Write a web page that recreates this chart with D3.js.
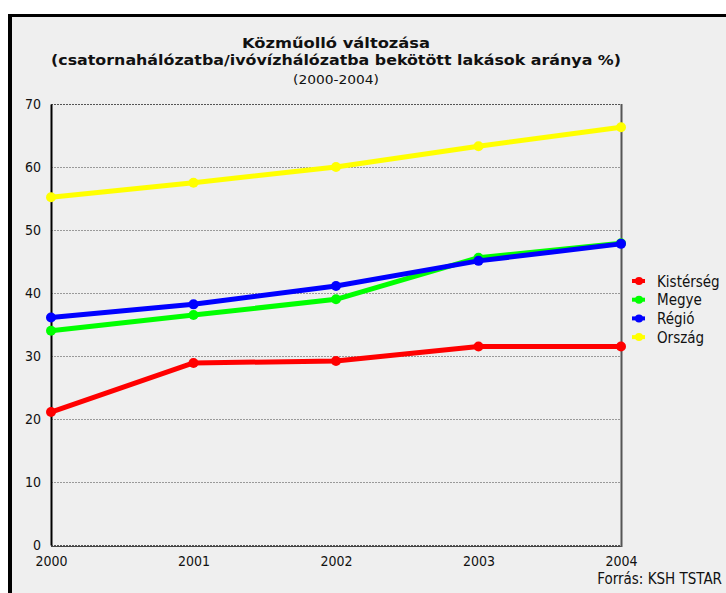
<!DOCTYPE html>
<html>
<head>
<meta charset="utf-8">
<script src="https://cdn.jsdelivr.net/npm/d3@7"></script>
<style>
  body { margin: 0; background: #fff; }
  svg { display: block; }
  svg text { font-family: "DejaVu Sans Condensed", "DejaVu Sans", sans-serif; font-stretch: condensed; }
</style>
</head>
<body>
<div class="graph"></div>
<script>
// chart data
var years = [2000, 2001, 2002, 2003, 2004];
var yearLabels = ["2000", "2001", "2002", "2003", "2004"];
var kisterseg = [21.1, 28.9, 29.2, 31.5, 31.5];
var megye = [34.0, 36.5, 39.0, 45.6, 47.9];
var regio = [36.1, 38.2, 41.1, 45.1, 47.8];
var orszag = [55.2, 57.5, 60.0, 63.3, 66.3];
var yTicks = [0, 10, 20, 30, 40, 50, 60, 70];
var seriesNames = ["Kistérség", "Megye", "Régió", "Ország"];

var series = [
  {name: seriesNames[0], values: kisterseg, color: "#ff0000"},
  {name: seriesNames[1], values: megye, color: "#00ff00"},
  {name: seriesNames[2], values: regio, color: "#0000ff"},
  {name: seriesNames[3], values: orszag, color: "#ffff00"}
];
// draw order: yellow, red, green, blue on top
var drawOrder = [3, 0, 1, 2];

var W = 726, H = 593;
var margin = {top: 104, right: 105, bottom: 48, left: 51},
    width = W - margin.left - margin.right,
    height = H - margin.top - margin.bottom;

var x = d3.scaleLinear().domain([2000, 2004]).range([0, width]);
var y = d3.scaleLinear().domain([0, 70]).range([height, 0]);

var svg = d3.select(".graph").append("svg")
    .attr("width", W)
    .attr("height", H);

// panel background and frame
svg.append("rect")
    .attr("x", 8).attr("y", 14)
    .attr("width", W - 8).attr("height", H - 14)
    .attr("fill", "#efefef");
svg.append("rect")
    .attr("x", 8).attr("y", 14)
    .attr("width", 4).attr("height", H - 14)
    .attr("fill", "#000");
svg.append("rect")
    .attr("x", 8).attr("y", 14)
    .attr("width", W - 8).attr("height", 3)
    .attr("fill", "#000");

// titles
var cx = margin.left + width / 2;
svg.append("text")
    .attr("x", cx).attr("y", 48)
    .attr("text-anchor", "middle")
    .attr("textLength", 188).attr("lengthAdjust", "spacingAndGlyphs")
    .style("font-size", "14px").style("font-weight", "bold")
    .style("fill", "#111")
    .text("Közműolló változása");
svg.append("text")
    .attr("x", cx).attr("y", 65)
    .attr("text-anchor", "middle")
    .attr("textLength", 570).attr("lengthAdjust", "spacingAndGlyphs")
    .style("font-size", "14px").style("font-weight", "bold")
    .style("fill", "#111")
    .text("(csatornahálózatba/ivóvízhálózatba bekötött lakások aránya %)");
svg.append("text")
    .attr("x", cx).attr("y", 84)
    .attr("text-anchor", "middle")
    .attr("textLength", 86).attr("lengthAdjust", "spacingAndGlyphs")
    .style("font-size", "13px")
    .style("fill", "#111")
    .text("(2000-2004)");

var g = svg.append("g")
    .attr("transform", "translate(" + margin.left + "," + margin.top + ")");

// grid lines
g.selectAll("line.grid")
    .data(yTicks)
    .enter().append("line")
    .attr("class", "grid")
    .attr("x1", 0).attr("x2", width)
    .attr("y1", function(d) { return y(d) + 0.5; })
    .attr("y2", function(d) { return y(d) + 0.5; })
    .attr("stroke", function(d) { return d === 70 || d === 0 ? "#555" : "#999"; })
    .attr("stroke-dasharray", "2,1");

// bottom solid line
g.append("line")
    .attr("x1", 0).attr("x2", width)
    .attr("y1", height + 1.5).attr("y2", height + 1.5)
    .attr("stroke", "#444");

// y axis
var yAxis = g.append("g")
    .call(d3.axisLeft(y).tickValues(yTicks).tickSize(0).tickPadding(10));
yAxis.attr("font-family", null).attr("font-size", null);
yAxis.select(".domain").attr("stroke", "#000").attr("stroke-width", 2);
yAxis.selectAll("text").style("font-size", "14px").style("fill", "#111");

// right border
g.append("line")
    .attr("x1", width + 0.5).attr("x2", width + 0.5)
    .attr("y1", 0).attr("y2", height + 2)
    .attr("stroke", "#555").attr("stroke-width", 2);

// x axis
var xAxis = g.append("g")
    .attr("transform", "translate(0," + height + ")")
    .call(d3.axisBottom(x).tickValues(years)
      .tickFormat(function(d, i) { return yearLabels[i]; })
      .tickSize(0).tickPadding(11));
xAxis.attr("font-family", null).attr("font-size", null);
xAxis.select(".domain").remove();
xAxis.selectAll("text").style("font-size", "14px").style("fill", "#111");

// lines
var valueline = d3.line()
    .x(function(d, i) { return x(years[i]); })
    .y(function(d) { return y(d); });

drawOrder.forEach(function(k) {
  var s = series[k];
  g.append("path")
      .datum(s.values)
      .attr("fill", "none")
      .attr("stroke", s.color)
      .attr("stroke-width", 5)
      .attr("stroke-linejoin", "round")
      .attr("d", valueline);
  g.selectAll("circle.s" + k)
      .data(s.values)
      .enter().append("circle")
      .attr("class", "s" + k)
      .attr("r", 5)
      .attr("fill", s.color)
      .attr("cx", function(d, i) { return x(years[i]); })
      .attr("cy", function(d) { return y(d); });
});

// legend
var legend = svg.append("g")
    .attr("transform", "translate(632,281)");
var item = legend.selectAll("g")
    .data(series)
    .enter().append("g")
    .attr("transform", function(d, i) { return "translate(0," + (i * 18.7) + ")"; });
item.append("line")
    .attr("x1", 0).attr("x2", 13)
    .attr("y1", 0).attr("y2", 0)
    .attr("stroke", function(d) { return d.color; })
    .attr("stroke-width", 4);
item.append("circle")
    .attr("cx", 7).attr("cy", 0).attr("r", 4)
    .attr("fill", function(d) { return d.color; });
item.append("text")
    .attr("x", 25).attr("y", 5.5)
    .style("font-size", "15px").style("fill", "#111")
    .text(function(d) { return d.name; });

// source note
svg.append("text")
    .attr("x", 722).attr("y", 584)
    .attr("text-anchor", "end")
    .style("font-size", "15px").style("fill", "#111")
    .text("Forrás: KSH TSTAR");
</script>
</body>
</html>
